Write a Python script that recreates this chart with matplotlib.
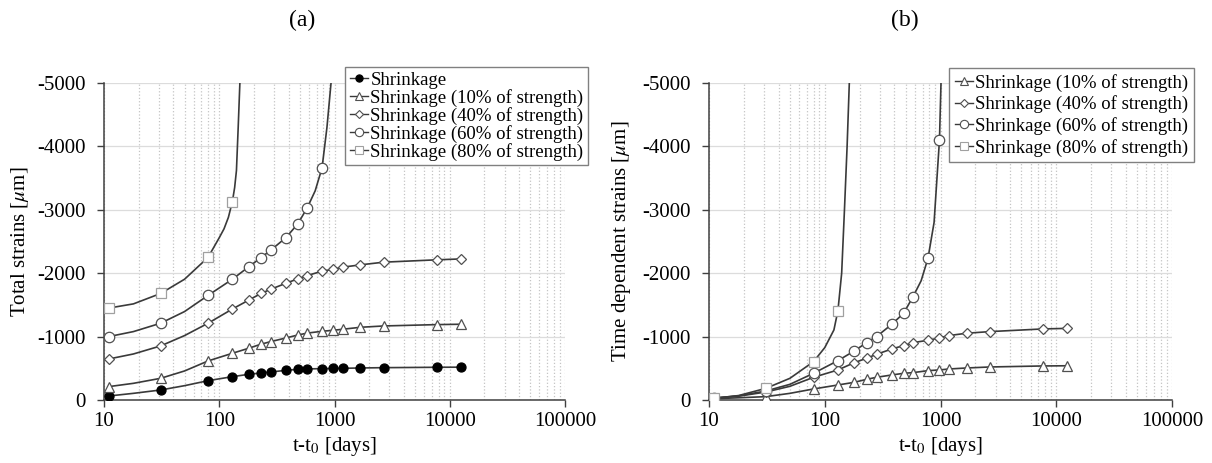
import matplotlib
matplotlib.use("Agg")
import matplotlib.pyplot as plt
from matplotlib.lines import Line2D

plt.rcParams['font.family'] = ['Liberation Serif', 'DejaVu Serif']
plt.rcParams['mathtext.fontset'] = 'stix'
plt.rcParams['axes.unicode_minus'] = False

# ages of the measurements (days)
x_pts = [11, 31, 80, 130, 180, 230, 280, 380, 480, 580, 780, 980, 1180, 1680, 2680, 7680, 12500]

# (a) total strains
a_shr = [-63, -158, -305, -368, -405, -426, -442, -468, -484, -490, -495, -497, -500, -505, -510, -516, -518]
a_10 = [-211, -342, -616, -737, -816, -880, -921, -979, -1025, -1055, -1084, -1100, -1116, -1147, -1168, -1189, -1195]
a_40 = [-647, -853, -1211, -1435, -1575, -1680, -1747, -1842, -1911, -1963, -2032, -2063, -2095, -2132, -2174, -2211, -2225]
a_60 = [-1000, -1211, -1650, -1905, -2100, -2245, -2363, -2563, -2778, -3031, -3663]
a_80 = [-1450, -1680, -2250, -3130]

# extra points of the fitted curves (read where there are no markers)
a_shr_fx, a_shr_fy = [18, 50], [-105, -226]
a_10_fx, a_10_fy = [18, 50], [-263, -458]
a_40_fx, a_40_fy = [18, 50], [-726, -1016]
a_60_fx, a_60_fy = [18, 50, 680, 860, 933], [-1079, -1395, -3300, -4300, -5000]
a_80_fx, a_80_fy = [18, 50, 100, 110, 120, 136, 141, 146, 151], [-1516, -1905, -2560, -2700, -2880, -3350, -3620, -4300, -5000]

# (b) time dependent strains
b_10 = [-20, -53, -174, -237, -279, -326, -358, -395, -421, -432, -463, -474, -489, -505, -521, -537, -540]
b_40 = [-30, -126, -358, -474, -589, -658, -721, -805, -858, -905, -942, -979, -1016, -1053, -1079, -1121, -1130]
b_60 = [-30, -142, -421, -621, -774, -905, -1000, -1195, -1368, -1632, -2237, -4105]
b_80 = [-26, -184, -605, -1411]

b_10_fx, b_10_fy = [18, 50], [-35, -105]
b_40_fx, b_40_fy = [18, 50], [-60, -216]
b_60_fx, b_60_fy = [18, 50, 680, 880, 1010], [-65, -247, -1880, -2800, -5000]
b_80_fx, b_80_fy = [18, 50, 100, 120, 140, 148, 156, 163], [-70, -342, -826, -1105, -2000, -3000, -4000, -5000]

labels = ["Shrinkage", "Shrinkage (10% of strength)", "Shrinkage (40% of strength)",
          "Shrinkage (60% of strength)", "Shrinkage (80% of strength)"]
x_ticks = [10, 100, 1000, 10000, 100000]
x_tick_labels = ["10", "100", "1000", "10000", "100000"]
y_ticks = [0, -1000, -2000, -3000, -4000, -5000]

LINE = '#3a3a3a'
styles = {
    "Shrinkage": dict(marker='o', ms=6.5, mfc='black', mec='black'),
    "Shrinkage (10% of strength)": dict(marker='^', ms=7.5, mfc='white', mec='#505050'),
    "Shrinkage (40% of strength)": dict(marker='D', ms=5, mfc='white', mec='#505050'),
    "Shrinkage (60% of strength)": dict(marker='o', ms=7.5, mfc='white', mec='#505050'),
    "Shrinkage (80% of strength)": dict(marker='s', ms=6.8, mfc='white', mec='#a0a0a0'),
}


def curve(xs, ys, fx, fy):
    pts = sorted(zip(list(xs) + fx, list(ys) + fy))
    return [p[0] for p in pts], [p[1] for p in pts]


def draw_series(ax, xs, ys, fx, fy, label):
    cx, cy = curve(xs, ys, fx, fy)
    ax.plot(cx, cy, color=LINE, lw=1.2, zorder=3)
    st = styles[label]
    ax.plot(xs, ys, linestyle='none', marker=st['marker'], ms=st['ms'],
            mfc=st['mfc'], mec=st['mec'], mew=0.9, zorder=4)


def setup(ax, ylabel, ylab_x):
    ax.set_xscale('log')
    ax.set_xlim(10, 100000)
    ax.set_ylim(0, -5000)
    ax.set_yticks(y_ticks)
    ax.set_xticks(x_ticks)
    ax.set_xticklabels(x_tick_labels)
    ax.xaxis.set_minor_formatter(plt.NullFormatter())
    ax.tick_params(axis='x', which='minor', length=0)
    ax.tick_params(which='major', direction='out', length=5, width=1, color='#404040',
                   labelsize=15)
    ax.tick_params(axis='y', pad=8)
    ax.tick_params(axis='x', pad=4)
    ax.grid(True, axis='x', which='both', color='#c4c4c4', linestyle=':', lw=0.9)
    ax.grid(True, axis='y', which='major', color='#dcdcdc', linestyle='-', lw=0.9)
    for s in ['top', 'right']:
        ax.spines[s].set_visible(False)
    for s in ['left', 'bottom']:
        ax.spines[s].set_color('#404040')
        ax.spines[s].set_linewidth(1.1)
    ax.set_xlabel(r"t-t$_0$ [days]", fontsize=15)
    ax.xaxis.set_label_coords(0.5, -0.148)
    ax.xaxis.label.set_va('center')
    ax.set_ylabel(ylabel, fontsize=15)
    ax.yaxis.set_label_coords(ylab_x, 0.5)
    ax.yaxis.label.set_va('center')


def handle(label):
    st = styles[label]
    return Line2D([], [], color=LINE, lw=1.0, marker=st['marker'], ms=st['ms'] * 0.8,
                  mfc=st['mfc'], mec=st['mec'], mew=0.8)


fig = plt.figure(figsize=(12.12, 4.63), dpi=100)
ax1 = fig.add_axes([104 / 1212, 63 / 463, 461 / 1212, 317 / 463])
ax2 = fig.add_axes([709 / 1212, 63 / 463, 463 / 1212, 317 / 463])

# (a)
setup(ax1, r"Total strains [$\mu$m]", -0.182)
draw_series(ax1, x_pts, a_shr, a_shr_fx, a_shr_fy, labels[0])
draw_series(ax1, x_pts, a_10, a_10_fx, a_10_fy, labels[1])
draw_series(ax1, x_pts, a_40, a_40_fx, a_40_fy, labels[2])
draw_series(ax1, x_pts[:len(a_60)], a_60, a_60_fx, a_60_fy, labels[3])
draw_series(ax1, x_pts[:len(a_80)], a_80, a_80_fx, a_80_fy, labels[4])
leg1 = fig.legend([handle(l) for l in labels], labels, loc='upper left',
                  bbox_to_anchor=(345 / 1212, 1 - 67 / 463), fontsize=13.5,
                  frameon=True, fancybox=False, edgecolor='#808080', framealpha=1,
                  handlelength=1.0, handletextpad=0.1, labelspacing=0.0,
                  borderpad=0.25, borderaxespad=0)
leg1.get_frame().set_linewidth(1.0)
fig.text(302 / 1212, 1 - 20 / 463, "(a)", fontsize=17, ha='center', va='center')

# (b)
setup(ax2, r"Time dependent strains [$\mu$m]", -0.188)
draw_series(ax2, x_pts, b_10, b_10_fx, b_10_fy, labels[1])
draw_series(ax2, x_pts, b_40, b_40_fx, b_40_fy, labels[2])
draw_series(ax2, x_pts[:len(b_60)], b_60, b_60_fx, b_60_fy, labels[3])
draw_series(ax2, x_pts[:len(b_80)], b_80, b_80_fx, b_80_fy, labels[4])
leg2 = fig.legend([handle(l) for l in labels[1:]], labels[1:], loc='upper left',
                  bbox_to_anchor=(949 / 1212, 1 - 68 / 463), fontsize=13.5,
                  frameon=True, fancybox=False, edgecolor='#808080', framealpha=1,
                  handlelength=1.0, handletextpad=0.1, labelspacing=0.2,
                  borderpad=0.3, borderaxespad=0)
leg2.get_frame().set_linewidth(1.0)
fig.text(905 / 1212, 1 - 20 / 463, "(b)", fontsize=17, ha='center', va='center')

fig.savefig("out.png", dpi=100)
